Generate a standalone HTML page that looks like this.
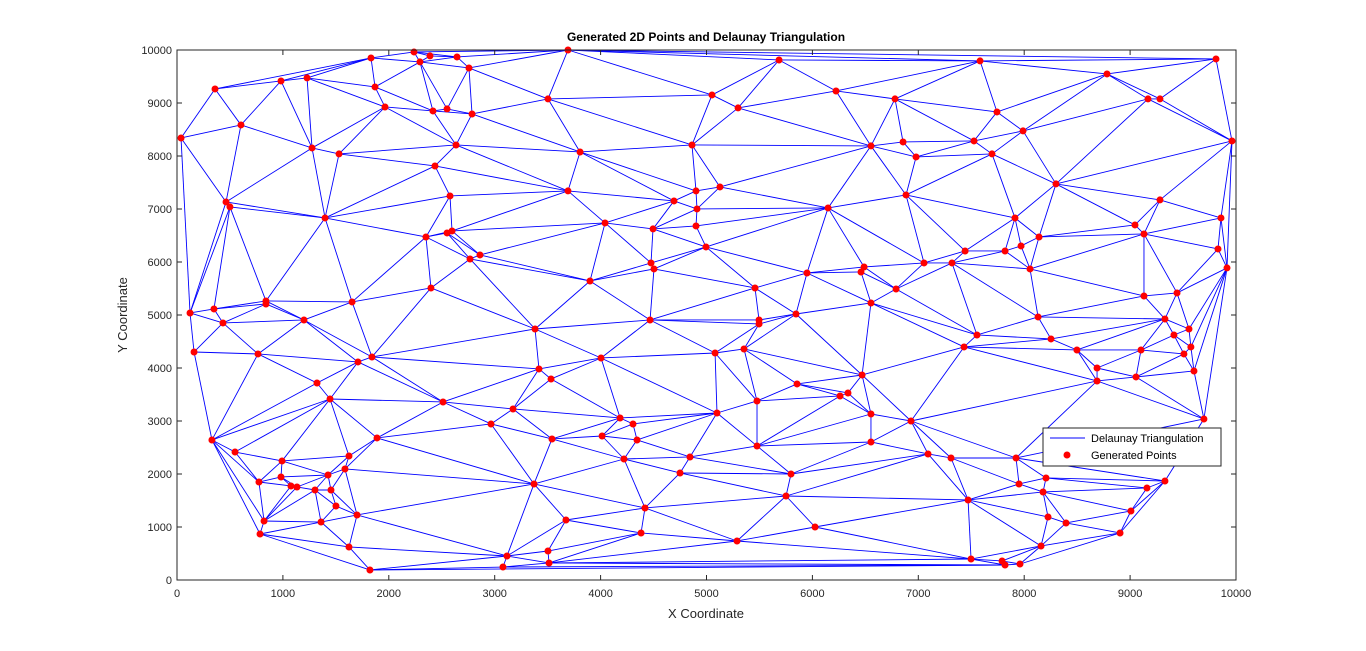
<!DOCTYPE html>
<html><head><meta charset="utf-8"><style>
html,body{margin:0;padding:0;background:#fff;}
svg{display:block;font-family:"Liberation Sans",sans-serif;}
</style></head><body>
<svg id="chart" width="1366" height="651">
<rect x="0" y="0" width="1366" height="651" fill="#fff"/>
<rect x="177" y="50" width="1059" height="530" fill="#fff"/>
<g id="edges"></g><g id="pts"></g><g id="axes"></g>
<text x="706" y="41" text-anchor="middle" font-size="12" font-weight="bold" fill="#000">Generated 2D Points and Delaunay Triangulation</text>
<text x="706" y="618" text-anchor="middle" font-size="13" fill="#262626">X Coordinate</text>
<text transform="translate(127,315) rotate(-90)" text-anchor="middle" font-size="13" fill="#262626">Y Coordinate</text>
<g>
<rect x="1043" y="428" width="178" height="38" fill="#fff" stroke="#262626" stroke-width="1"/>
<g><line x1="1050" y1="438" x2="1085" y2="438" stroke="#0000ff"/><text x="1091" y="442" font-size="11" fill="#000">Delaunay Triangulation</text></g>
<g><circle cx="1067" cy="455" r="3.5" fill="#ff0000"/><text x="1091" y="459" font-size="11" fill="#000">Generated Points</text></g>
</g>
</svg>
<script>
const xs=[38,359,604,982,1228,1832,1870,2238,2294,2389,2644,2757,3692,1964,2417,2550,2786,3503,1275,1530,2635,3806,2436,463,500,1398,2578,3692,2351,2550,2597,2767,2861,4042,4693,4863,4901,4910,5127,4901,4495,4476,4504,3900,4995,5052,5298,5685,6223,6148,6553,6780,6856,6979,6884,7526,7583,7743,7696,7989,8300,8782,9169,9282,9811,9962,9282,7913,8140,7970,9046,9131,9858,9830,9915,7819,7442,8055,7318,7054,6790,6488,6459,6553,5949,5458,5496,5496,5845,5354,5081,4467,3381,4004,3418,3532,2512,1841,1709,1653,2398,1199,840,840,349,123,434,161,765,1322,1445,330,548,992,774,982,1076,1133,1303,1426,1586,1624,1454,1501,1700,822,784,1360,1624,1822,1889,2965,3173,3371,3541,4014,4184,4306,4344,4221,3673,4419,4382,3116,3078,3503,3513,4750,4844,5099,5477,5477,5855,6261,6336,6469,6553,6553,6931,7092,7309,7554,7432,5798,5751,6025,5288,7470,7498,7791,7819,7960,8159,8225,8395,8178,8206,7951,7923,8905,9008,9159,9329,8131,8253,8498,8688,8688,9056,9103,9131,9443,9329,9414,9556,9508,9574,9603,9697];
const ys=[8340,9265,8586,9416,9473,9850,9303,9963,9775,9888,9869,9661,10000,8925,8850,8888,8793,9077,8152,8039,8208,8076,7812,7133,7039,6831,7246,7341,6472,6548,6586,6057,6133,6737,7152,8208,7341,7001,7416,6680,6624,5982,5869,5642,6284,9152,8907,9812,9227,7020,8190,9077,8265,7982,7265,8284,9794,8831,8039,8473,7473,9548,9077,9077,9831,8284,7171,6831,6472,6303,6699,6529,6831,6246,5888,6208,6208,5869,5982,5982,5491,5906,5812,5227,5793,5510,4906,4831,5019,4359,4283,4906,4736,4189,3982,3793,3359,4208,4114,5246,5510,4906,5265,5208,5114,5038,4850,4302,4265,3717,3415,2642,2415,2246,1849,1944,1774,1755,1698,1981,2095,2340,1698,1396,1227,1113,868,1094,623,189,2680,2944,3227,1812,2661,2717,3057,2944,2642,2283,1132,1359,887,453,245,547,321,2019,2321,3151,3378,2529,3699,3472,3529,3868,3132,2604,3000,2378,2302,4623,4397,2000,1585,1000,736,1510,396,359,283,302,642,1189,1076,1661,1925,1812,2302,887,1302,1736,1868,4963,4548,4340,4000,3755,3831,4340,5359,5416,4925,4623,4736,4265,4397,3944,3038];
const xTicks=[0,1000,2000,3000,4000,5000,6000,7000,8000,9000,10000];
const yTicks=[0,1000,2000,3000,4000,5000,6000,7000,8000,9000,10000];
const X0=177,X1=1236,Y0=580,Y1=50;
const sx=v=>X0+(v-0)/10000*(X1-X0);
const sy=v=>Y0-(v-0)/10000*(Y0-Y1);
const NS='http://www.w3.org/2000/svg';
function mk(t,a){const e=document.createElementNS(NS,t);for(const k in a)e.setAttribute(k,a[k]);return e;}
// Bowyer-Watson
const P=xs.map((x,i)=>[x,ys[i]]);
const n=P.length;
const pts=P.concat([[-1e6,-1e6],[1e6,-1e6],[5000,1e6]]);
function circ(a,b,c){const [ax,ay]=pts[a],[bx,by]=pts[b],[cx,cy]=pts[c];
const d=2*(ax*(by-cy)+bx*(cy-ay)+cx*(ay-by));
const ux=((ax*ax+ay*ay)*(by-cy)+(bx*bx+by*by)*(cy-ay)+(cx*cx+cy*cy)*(ay-by))/d;
const uy=((ax*ax+ay*ay)*(cx-bx)+(bx*bx+by*by)*(ax-cx)+(cx*cx+cy*cy)*(bx-ax))/d;
return [ux,uy,(ax-ux)**2+(ay-uy)**2];}
let tris=[[n,n+1,n+2]].map(t=>({v:t,c:circ(...t)}));
for(let i=0;i<n;i++){const [px,py]=pts[i];const bad=[],keep=[];
for(const t of tris){const dx=px-t.c[0],dy=py-t.c[1];(dx*dx+dy*dy<t.c[2]?bad:keep).push(t);}
const ec={};for(const t of bad){const v=t.v;for(const [a,b] of [[v[0],v[1]],[v[1],v[2]],[v[2],v[0]]]){const k=a<b?a+'_'+b:b+'_'+a;ec[k]=(ec[k]||0)+1;}}
for(const k in ec)if(ec[k]===1){const [a,b]=k.split('_').map(Number);const v=[a,b,i];keep.push({v,c:circ(...v)});}
tris=keep;}
const edges=new Set();
for(const t of tris){const v=t.v;if(v.some(k=>k>=n))continue;for(const [a,b] of [[v[0],v[1]],[v[1],v[2]],[v[2],v[0]]])edges.add(a<b?a+'_'+b:b+'_'+a);}
const eg=document.getElementById('edges');
for(const k of edges){const [a,b]=k.split('_').map(Number);
const l=mk('line',{x1:sx(xs[a]),y1:sy(ys[a]),x2:sx(xs[b]),y2:sy(ys[b]),stroke:'#0000ff','stroke-width':0.9});


eg.appendChild(l);}
const pg=document.getElementById('pts');
for(let i=0;i<n;i++){const c=mk('circle',{cx:sx(xs[i]),cy:sy(ys[i]),r:3.5,fill:'#ff0000'});


pg.appendChild(c);}
const ag=document.getElementById('axes');
const box=mk('rect',{x:X0,y:Y1,width:X1-X0,height:Y0-Y1,fill:'none',stroke:'#262626','stroke-width':1});


ag.appendChild(box);
for(const t of xTicks){const x=sx(t);
ag.appendChild(mk('line',{x1:x,y1:Y0,x2:x,y2:Y0-5,stroke:'#262626'}));
ag.appendChild(mk('line',{x1:x,y1:Y1,x2:x,y2:Y1+5,stroke:'#262626'}));
const tx=mk('text',{x:x,y:Y0+17,'text-anchor':'middle','font-size':11,fill:'#262626'});tx.textContent=t;


ag.appendChild(tx);}
for(const t of yTicks){const y=sy(t);
ag.appendChild(mk('line',{x1:X0,y1:y,x2:X0+5,y2:y,stroke:'#262626'}));
ag.appendChild(mk('line',{x1:X1,y1:y,x2:X1-5,y2:y,stroke:'#262626'}));
const tx=mk('text',{x:X0-5,y:y+4,'text-anchor':'end','font-size':11,fill:'#262626'});tx.textContent=t;


ag.appendChild(tx);}
</script>
</body></html>
